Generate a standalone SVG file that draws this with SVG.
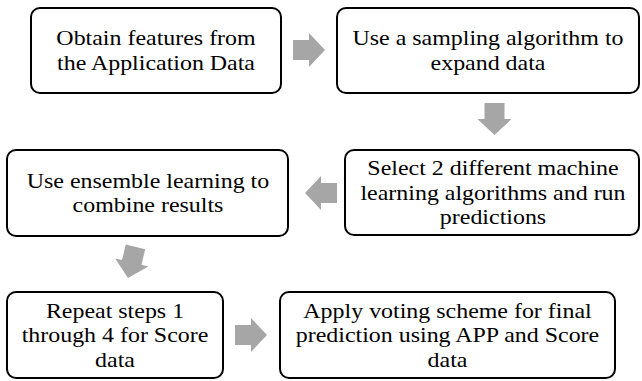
<svg xmlns="http://www.w3.org/2000/svg" width="642" height="381" viewBox="0 0 642 381">
  <style>
    .box { fill: #ffffff; stroke: #000000; stroke-width: 2; }
    .lbl { font-family: "Liberation Serif", "Times New Roman", serif; font-size: 21px; fill: #000000; text-anchor: middle; }
    .arrow { fill: #a6a6a6; stroke: none; }
  </style>
  <defs>
    <!-- block arrow pointing right, tip at (0,0) -->
    <polygon id="blockArrow" points="-32,-10 -16,-10 -16,-17 0,0 -16,17 -16,10 -32,10"/>
  </defs>
  <rect x="0" y="0" width="642" height="381" fill="#ffffff"/>

  <g id="connectors">
    <use href="#blockArrow" class="arrow" transform="translate(325,50)"/>
    <use href="#blockArrow" class="arrow" transform="translate(494.5,135) rotate(90)"/>
    <use href="#blockArrow" class="arrow" transform="translate(305,193) rotate(180)"/>
    <use href="#blockArrow" class="arrow" transform="translate(128,278) rotate(103.5)"/>
    <use href="#blockArrow" class="arrow" transform="translate(267,335)"/>
  </g>

  <g id="node1">
    <rect class="box" x="31" y="8" width="250" height="85" rx="9"/>
    <text class="lbl" transform="translate(156,45) scale(1.14,1)">Obtain features from</text>
    <text class="lbl" transform="translate(156,70) scale(1.14,1)">the Application Data</text>
  </g>

  <g id="node2">
    <rect class="box" x="337" y="8" width="302" height="85" rx="9"/>
    <text class="lbl" transform="translate(488,45) scale(1.14,1)">Use a sampling algorithm to</text>
    <text class="lbl" transform="translate(488,70) scale(1.14,1)">expand data</text>
  </g>

  <g id="node3">
    <rect class="box" x="345" y="150" width="294" height="85" rx="9"/>
    <text class="lbl" transform="translate(493,175) scale(1.14,1)">Select 2 different machine</text>
    <text class="lbl" transform="translate(493,200) scale(1.14,1)">learning algorithms and run</text>
    <text class="lbl" transform="translate(493,224) scale(1.14,1)">predictions</text>
  </g>

  <g id="node4">
    <rect class="box" x="7" y="150" width="281" height="86" rx="9"/>
    <text class="lbl" transform="translate(148,188) scale(1.14,1)">Use ensemble learning to</text>
    <text class="lbl" transform="translate(148,212) scale(1.14,1)">combine results</text>
  </g>

  <g id="node5">
    <rect class="box" x="7" y="292" width="216" height="86" rx="9"/>
    <text class="lbl" transform="translate(115,318) scale(1.14,1)">Repeat steps 1</text>
    <text class="lbl" transform="translate(115,342) scale(1.14,1)">through 4 for Score</text>
    <text class="lbl" transform="translate(115,367) scale(1.14,1)">data</text>
  </g>

  <g id="node6">
    <rect class="box" x="280" y="292" width="335" height="86" rx="9"/>
    <text class="lbl" transform="translate(447.5,318) scale(1.14,1)">Apply voting scheme for final</text>
    <text class="lbl" transform="translate(447.5,342) scale(1.14,1)">prediction using APP and Score</text>
    <text class="lbl" transform="translate(447.5,367) scale(1.14,1)">data</text>
  </g>
</svg>
